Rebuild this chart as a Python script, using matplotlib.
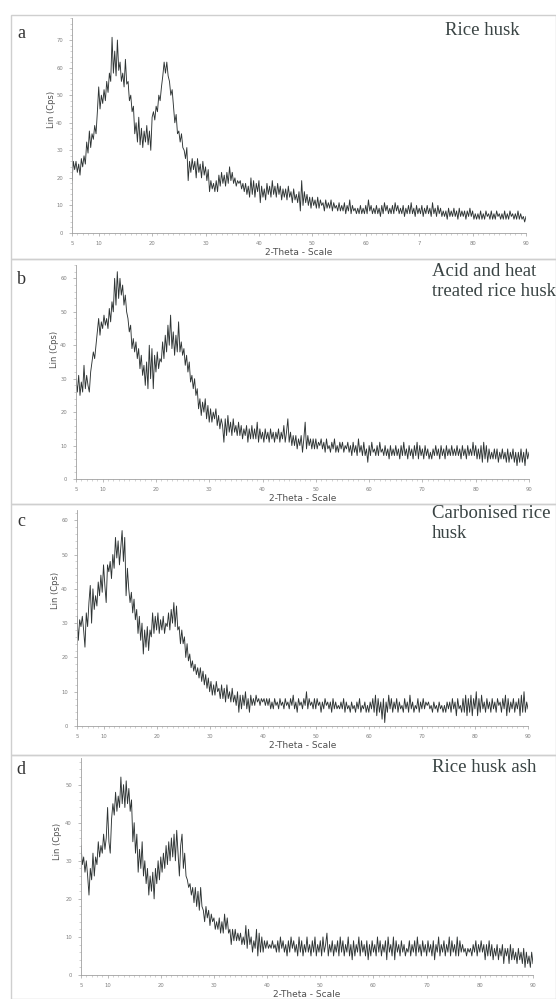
import numpy as np
import matplotlib.pyplot as plt
from matplotlib.patches import Rectangle
from matplotlib.ticker import MultipleLocator, FixedLocator

##### 2-theta grid (0.25 deg steps, 5 -> 90)
two_theta = np.arange(5, 90.001, 0.25)

##### intensities (Lin, Cps)
rice_husk = [
    19, 26, 23, 26, 22, 25, 21, 27, 24, 28, 25, 33, 29, 37, 31, 36, 34, 39, 36, 44,
    53, 45, 50, 47, 52, 48, 55, 51, 58, 55, 71, 58, 66, 57, 70, 59, 62, 55, 58, 53,
    63, 54, 55, 48, 50, 44, 46, 36, 40, 33, 42, 32, 38, 31, 37, 33, 39, 32, 37, 30,
    42, 44, 41, 46, 44, 50, 48, 53, 57, 62, 58, 62, 57, 55, 50, 52, 46, 40, 43, 36,
    37, 33, 36, 31, 30, 27, 31, 19, 26, 22, 27, 23, 26, 20, 27, 22, 25, 20, 26, 21,
    24, 19, 23, 15, 19, 16, 18, 15, 19, 15, 21, 17, 22, 18, 21, 17, 22, 18, 24, 19,
    22, 18, 20, 17, 19, 18, 19, 16, 18, 15, 18, 14, 17, 13, 20, 14, 19, 13, 18, 15,
    19, 11, 17, 13, 16, 12, 18, 14, 17, 13, 19, 14, 17, 13, 18, 14, 17, 12, 16, 13,
    16, 12, 17, 13, 15, 11, 16, 12, 14, 11, 15, 8, 19, 10, 15, 11, 14, 10, 13, 9,
    13, 10, 12, 9, 13, 9, 12, 10, 11, 8, 12, 9, 11, 9, 12, 8, 11, 9, 10, 8,
    11, 8, 10, 8, 11, 7, 10, 8, 12, 7, 10, 8, 9, 7, 9, 7, 10, 7, 9, 7,
    10, 7, 12, 8, 10, 7, 9, 7, 10, 7, 9, 6, 10, 7, 11, 8, 10, 7, 9, 7,
    10, 7, 11, 8, 10, 7, 9, 7, 10, 6, 9, 7, 10, 7, 11, 7, 9, 6, 10, 7,
    9, 7, 10, 6, 9, 7, 10, 7, 9, 6, 11, 7, 9, 6, 10, 7, 9, 6, 8, 6,
    8, 5, 9, 6, 8, 6, 9, 6, 8, 5, 9, 6, 8, 6, 8, 5, 8, 6, 9, 6,
    8, 5, 7, 5, 7, 5, 8, 5, 7, 5, 8, 6, 7, 5, 8, 5, 7, 5, 8, 6,
    7, 5, 7, 5, 8, 5, 7, 5, 8, 6, 7, 5, 7, 5, 8, 5, 7, 5, 6, 4,
    6]

acid_heat = [
    30, 26, 31, 25, 29, 26, 34, 27, 31, 28, 26, 32, 35, 38, 36, 40, 44, 48, 43, 47,
    45, 49, 46, 48, 45, 51, 47, 53, 50, 60, 52, 62, 54, 60, 55, 58, 52, 55, 50, 48,
    44, 46, 39, 42, 38, 41, 36, 39, 33, 37, 31, 34, 28, 35, 27, 40, 30, 39, 27, 37,
    32, 38, 33, 36, 35, 41, 36, 43, 38, 46, 40, 49, 39, 44, 37, 43, 38, 47, 38, 41,
    37, 39, 34, 37, 32, 35, 29, 31, 27, 30, 25, 27, 21, 24, 19, 23, 20, 24, 18, 22,
    17, 21, 17, 20, 18, 21, 16, 19, 15, 18, 16, 11, 18, 13, 19, 14, 17, 13, 18, 14,
    16, 13, 17, 13, 16, 12, 15, 13, 16, 11, 15, 12, 16, 12, 15, 12, 17, 11, 15, 12,
    14, 11, 15, 12, 14, 11, 15, 12, 14, 11, 14, 12, 15, 11, 14, 12, 16, 11, 14, 18,
    11, 14, 10, 13, 10, 13, 9, 12, 10, 13, 8, 12, 17, 9, 13, 10, 12, 9, 12, 9,
    12, 9, 11, 10, 12, 9, 11, 8, 12, 9, 10, 8, 11, 9, 12, 8, 10, 8, 11, 9,
    11, 8, 10, 9, 11, 8, 10, 7, 11, 8, 10, 7, 12, 8, 10, 7, 11, 7, 9, 5,
    10, 7, 11, 8, 9, 7, 10, 7, 11, 8, 9, 7, 10, 7, 9, 6, 10, 7, 9, 7,
    10, 7, 9, 6, 10, 7, 11, 7, 9, 6, 10, 7, 9, 6, 10, 7, 11, 6, 10, 7,
    9, 6, 10, 7, 9, 6, 8, 6, 9, 7, 10, 7, 9, 6, 10, 7, 9, 6, 10, 7,
    9, 7, 10, 7, 9, 7, 10, 7, 9, 6, 10, 7, 9, 6, 10, 7, 9, 7, 11, 7,
    10, 6, 9, 6, 10, 5, 11, 6, 10, 5, 9, 6, 8, 6, 9, 6, 9, 5, 8, 6,
    9, 6, 8, 5, 9, 5, 8, 6, 9, 5, 8, 4, 8, 5, 9, 5, 8, 4, 9, 6,
    8]

carbonised = [
    32, 25, 31, 29, 32, 28, 23, 33, 29, 36, 41, 30, 40, 34, 38, 35, 42, 38, 44, 39,
    47, 41, 36, 47, 45, 48, 43, 50, 46, 55, 49, 54, 47, 52, 57, 48, 55, 38, 46, 40,
    36, 39, 33, 37, 31, 34, 27, 32, 25, 30, 21, 28, 23, 29, 22, 28, 26, 33, 27, 32,
    28, 33, 27, 31, 28, 32, 27, 30, 29, 33, 28, 34, 30, 36, 29, 35, 28, 29, 24, 28,
    24, 26, 20, 24, 19, 21, 17, 19, 16, 18, 15, 17, 14, 17, 13, 16, 12, 15, 11, 14,
    10, 13, 9, 12, 9, 13, 10, 11, 8, 12, 8, 11, 7, 12, 8, 10, 7, 11, 7, 9,
    6, 10, 4, 9, 5, 9, 6, 10, 5, 8, 4, 9, 6, 8, 6, 9, 7, 8, 6, 8,
    7, 8, 6, 8, 6, 8, 5, 7, 5, 8, 6, 7, 5, 8, 6, 7, 5, 8, 6, 7,
    5, 8, 6, 9, 5, 7, 4, 8, 6, 7, 5, 8, 6, 10, 5, 8, 6, 7, 5, 8,
    5, 8, 6, 7, 4, 7, 5, 8, 6, 7, 5, 7, 4, 8, 5, 7, 5, 6, 5, 7,
    5, 8, 4, 7, 5, 6, 4, 7, 5, 6, 4, 7, 5, 8, 4, 6, 5, 7, 4, 6,
    4, 7, 5, 8, 4, 9, 3, 8, 4, 7, 2, 8, 1, 7, 4, 9, 5, 8, 4, 7,
    5, 8, 4, 7, 5, 6, 4, 8, 5, 7, 4, 9, 5, 7, 4, 6, 5, 8, 4, 7,
    5, 8, 5, 7, 6, 7, 5, 6, 4, 7, 5, 6, 4, 7, 5, 6, 4, 6, 4, 7,
    5, 7, 4, 8, 5, 7, 3, 8, 5, 6, 4, 8, 4, 9, 3, 8, 4, 9, 3, 8,
    5, 10, 3, 8, 4, 9, 5, 7, 4, 8, 5, 7, 4, 8, 5, 7, 4, 8, 6, 7,
    4, 8, 5, 9, 3, 8, 4, 7, 5, 8, 4, 7, 5, 8, 3, 9, 4, 10, 4, 7,
    5]

husk_ash = [
    34, 29, 31, 27, 30, 26, 21, 28, 25, 32, 26, 31, 29, 35, 31, 34, 32, 37, 33, 36,
    44, 35, 32, 41, 45, 42, 48, 43, 47, 44, 52, 45, 50, 44, 51, 45, 49, 43, 46, 35,
    40, 32, 37, 27, 33, 28, 35, 26, 30, 24, 28, 21, 26, 22, 27, 20, 28, 24, 30, 25,
    31, 27, 32, 28, 34, 29, 35, 30, 36, 31, 37, 30, 38, 32, 26, 34, 37, 28, 32, 26,
    25, 23, 24, 21, 23, 19, 23, 18, 22, 17, 23, 18, 17, 14, 18, 15, 17, 13, 16, 14,
    15, 12, 14, 12, 15, 11, 14, 11, 16, 12, 15, 11, 12, 8, 12, 9, 12, 9, 11, 9,
    11, 8, 10, 8, 13, 7, 12, 8, 10, 6, 9, 7, 12, 5, 11, 6, 10, 6, 9, 7,
    9, 7, 8, 7, 9, 7, 8, 6, 9, 6, 10, 7, 9, 6, 8, 5, 9, 6, 10, 7,
    9, 6, 8, 5, 10, 6, 9, 5, 8, 6, 10, 6, 8, 5, 9, 6, 10, 5, 8, 6,
    9, 5, 10, 6, 8, 11, 5, 8, 6, 9, 5, 8, 6, 9, 5, 10, 6, 9, 5, 8,
    6, 10, 5, 8, 4, 9, 5, 8, 6, 10, 5, 9, 6, 8, 5, 9, 4, 8, 5, 9,
    6, 8, 5, 10, 6, 9, 5, 8, 6, 9, 4, 10, 6, 8, 5, 10, 4, 9, 6, 8,
    5, 9, 6, 8, 5, 7, 6, 9, 5, 8, 6, 9, 5, 10, 6, 8, 5, 9, 6, 8,
    5, 9, 6, 8, 5, 9, 4, 8, 6, 10, 5, 8, 6, 9, 5, 8, 6, 10, 5, 9,
    6, 8, 5, 10, 5, 9, 6, 8, 6, 7, 5, 7, 6, 7, 5, 8, 6, 9, 5, 8,
    6, 9, 6, 8, 4, 8, 5, 9, 5, 8, 4, 7, 5, 8, 4, 7, 5, 8, 3, 7,
    5, 7, 3, 8, 4, 7, 4, 6, 3, 7, 4, 6, 3, 7, 2, 6, 3, 5, 2, 6,
    3]

series = [rice_husk, acid_heat, carbonised, husk_ash]
letters = ['a', 'b', 'c', 'd']
titles = ['Rice husk', 'Acid and heat\ntreated rice husk', 'Carbonised rice\nhusk', 'Rice husk ash']
x_major = [5, 10, 20, 30, 40, 50, 60, 70, 80, 90]
x_labels = [['5', '10', '20', '30', '40', '50', '60', '7', '80', '90']] + \
           [['5', '10', '20', '30', '40', '50', '60', '70', '80', '90']] * 3
y_top = [78, 64, 63, 57]

######## layout in pixels of the 556x999 picture
W, H = 556, 999
axes_px = [(72, 18, 526, 233), (76, 265, 529, 479), (77, 510, 528, 726), (81, 758, 533, 975)]
frame_px = [(11, 15, 259), (11, 259, 504), (11, 504, 755), (11, 755, 999)]
ylab_px = [(52, 109), (54, 349), (55, 590), (58, 841)]
letter_px = [(21, 33), (21, 279), (21, 522), (21, 769)]
title_px = [(445, 22), (432, 263), (432, 505), (432, 759)]

fig = plt.figure(figsize=(W / 100, H / 100), dpi=100)

for i in range(4):
    fl, ft, fb = frame_px[i]
    fig.add_artist(Rectangle((fl / W, 1 - fb / H), (W - fl) / W, (fb - ft) / H,
                             transform=fig.transFigure, fill=False,
                             edgecolor='#cfcfcf', linewidth=1.0))

    l, t, r, b = axes_px[i]
    ax = fig.add_axes([l / W, 1 - b / H, (r - l) / W, (b - t) / H])
    ax.plot(two_theta, series[i], color='#2e3434', linewidth=0.65)
    ax.set_xlim(5, 90)
    ax.set_ylim(0, y_top[i])

    for s in ['top', 'right']:
        ax.spines[s].set_visible(False)
    for s in ['left', 'bottom']:
        ax.spines[s].set_color('#a0a0a0')
        ax.spines[s].set_linewidth(0.6)

    ax.xaxis.set_major_locator(FixedLocator(x_major))
    ax.set_xticklabels(x_labels[i])
    ax.xaxis.set_minor_locator(MultipleLocator(1))
    ax.yaxis.set_major_locator(MultipleLocator(10))
    ax.yaxis.set_minor_locator(MultipleLocator(2))
    ax.tick_params(which='major', length=2.5, width=0.5, color='#a0a0a0',
                   labelsize=3.8, labelcolor='#808080', direction='out')
    ax.tick_params(which='minor', length=1.6, width=0.4, color='#b0b0b0', direction='out')
    ax.tick_params(axis='x', pad=3)
    ax.tick_params(axis='y', pad=4)

    ax.set_xlabel('2-Theta - Scale', fontsize=6.5, color='#505050')
    ax.xaxis.set_label_coords(0.5, -15 / (b - t))

    yx, yy = ylab_px[i]
    fig.text(yx / W, 1 - yy / H, 'Lin (Cps)', rotation=90, fontsize=6,
             color='#505050', ha='center', va='center')

    lx, ly = letter_px[i]
    fig.text(lx / W, 1 - ly / H, letters[i], family='Liberation Serif',
             fontsize=13, color='#333333', ha='center', va='center')

    tx, ty = title_px[i]
    fig.text(tx / W, 1 - ty / H, titles[i], family='Liberation Serif',
             fontsize=13.5, color='#3a4444', ha='left', va='top', linespacing=1.25)

plt.savefig('out.png', dpi=100)
